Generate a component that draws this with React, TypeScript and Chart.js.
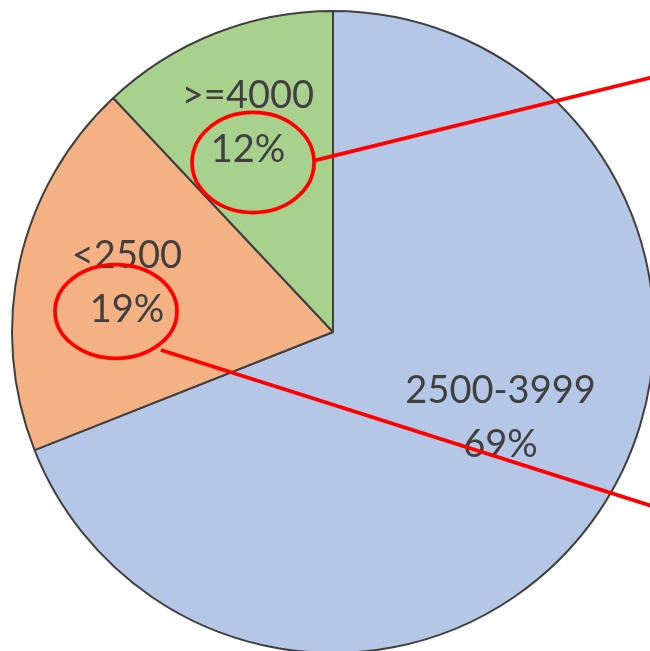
import React, { useEffect, useRef } from "react";
import { Chart, registerables } from "chart.js";

Chart.register(...registerables);

// ---- data ----
const categories = ["2500-3999", "<2500", ">=4000"];
const shares = [69, 19, 12];
const percentLabels = ["69%", "19%", "12%"];
const sliceColors = ["#B4C7E7", "#F4B183", "#A9D18E"];

// label anchors, in units of the pie radius relative to its centre (first line baseline)
const labelAnchors: [number, number][] = [
  [0.522, 0.221],
  [-0.642, -0.199],
  [-0.265, -0.698],
];
const labelLineGap = 0.168; // in radius units

// red callout ellipses (centre x, centre y, rx, ry) in radius units
const ellipses: [number, number, number, number][] = [
  [-0.249, -0.528, 0.19, 0.156],
  [-0.676, -0.064, 0.19, 0.146],
];
// red callout lines (x1, y1, x2, y2) in radius units
const calloutLines: [number, number, number, number][] = [
  [-0.059, -0.534, 1.081, -0.815],
  [-0.536, 0.056, 1.081, 0.57],
];

const overlayPlugin = {
  id: "overlay",
  afterDatasetsDraw(chart: any) {
    const meta = chart.getDatasetMeta(0);
    const arc = meta.data[0];
    if (!arc) return;
    const { x: cx, y: cy, outerRadius: R } = arc.getProps(["x", "y", "outerRadius"], true);
    const ctx = chart.ctx;
    ctx.save();
    ctx.fillStyle = "#404040";
    ctx.font = '38px Lato, "Open Sans", sans-serif';
    ctx.textAlign = "center";
    ctx.textBaseline = "alphabetic";
    categories.forEach((c, i) => {
      const [ax, ay] = labelAnchors[i];
      const x = cx + ax * R;
      const y = cy + ay * R;
      ctx.fillText(c, x, y);
      ctx.fillText(percentLabels[i], x, y + labelLineGap * R);
    });
    ctx.strokeStyle = "#FF0000";
    ctx.lineWidth = 3.75;
    ellipses.forEach(([ex, ey, rx, ry]) => {
      ctx.beginPath();
      ctx.ellipse(cx + ex * R, cy + ey * R, rx * R, ry * R, 0, 0, Math.PI * 2);
      ctx.stroke();
    });
    ctx.lineWidth = 3.75;
    calloutLines.forEach(([x1, y1, x2, y2]) => {
      ctx.beginPath();
      ctx.moveTo(cx + x1 * R, cy + y1 * R);
      ctx.lineTo(cx + x2 * R, cy + y2 * R);
      ctx.stroke();
    });
    ctx.restore();
  },
};

export default function App() {
  const ref = useRef<HTMLCanvasElement>(null);
  useEffect(() => {
    if (!ref.current) return;
    const chart = new Chart(ref.current, {
      type: "pie",
      data: {
        labels: categories,
        datasets: [
          {
            data: shares,
            backgroundColor: sliceColors,
            borderColor: "#404040",
            borderWidth: 2,
          },
        ],
      },
      options: {
        responsive: false,
        animation: false,
        events: [],
        radius: 321,
        layout: { padding: 10 },
        plugins: {
          legend: { display: false },
          tooltip: { enabled: false },
        },
      } as any,
      plugins: [overlayPlugin],
    });
    return () => chart.destroy();
  }, []);
  return (
    <div
      style={{
        position: "fixed",
        top: 0,
        left: 0,
        width: "100vw",
        height: "100vh",
        overflow: "hidden",
        background: "#fff",
      }}
    >
      <canvas ref={ref} width={666} height={664} style={{ display: "block" }} />
    </div>
  );
}
